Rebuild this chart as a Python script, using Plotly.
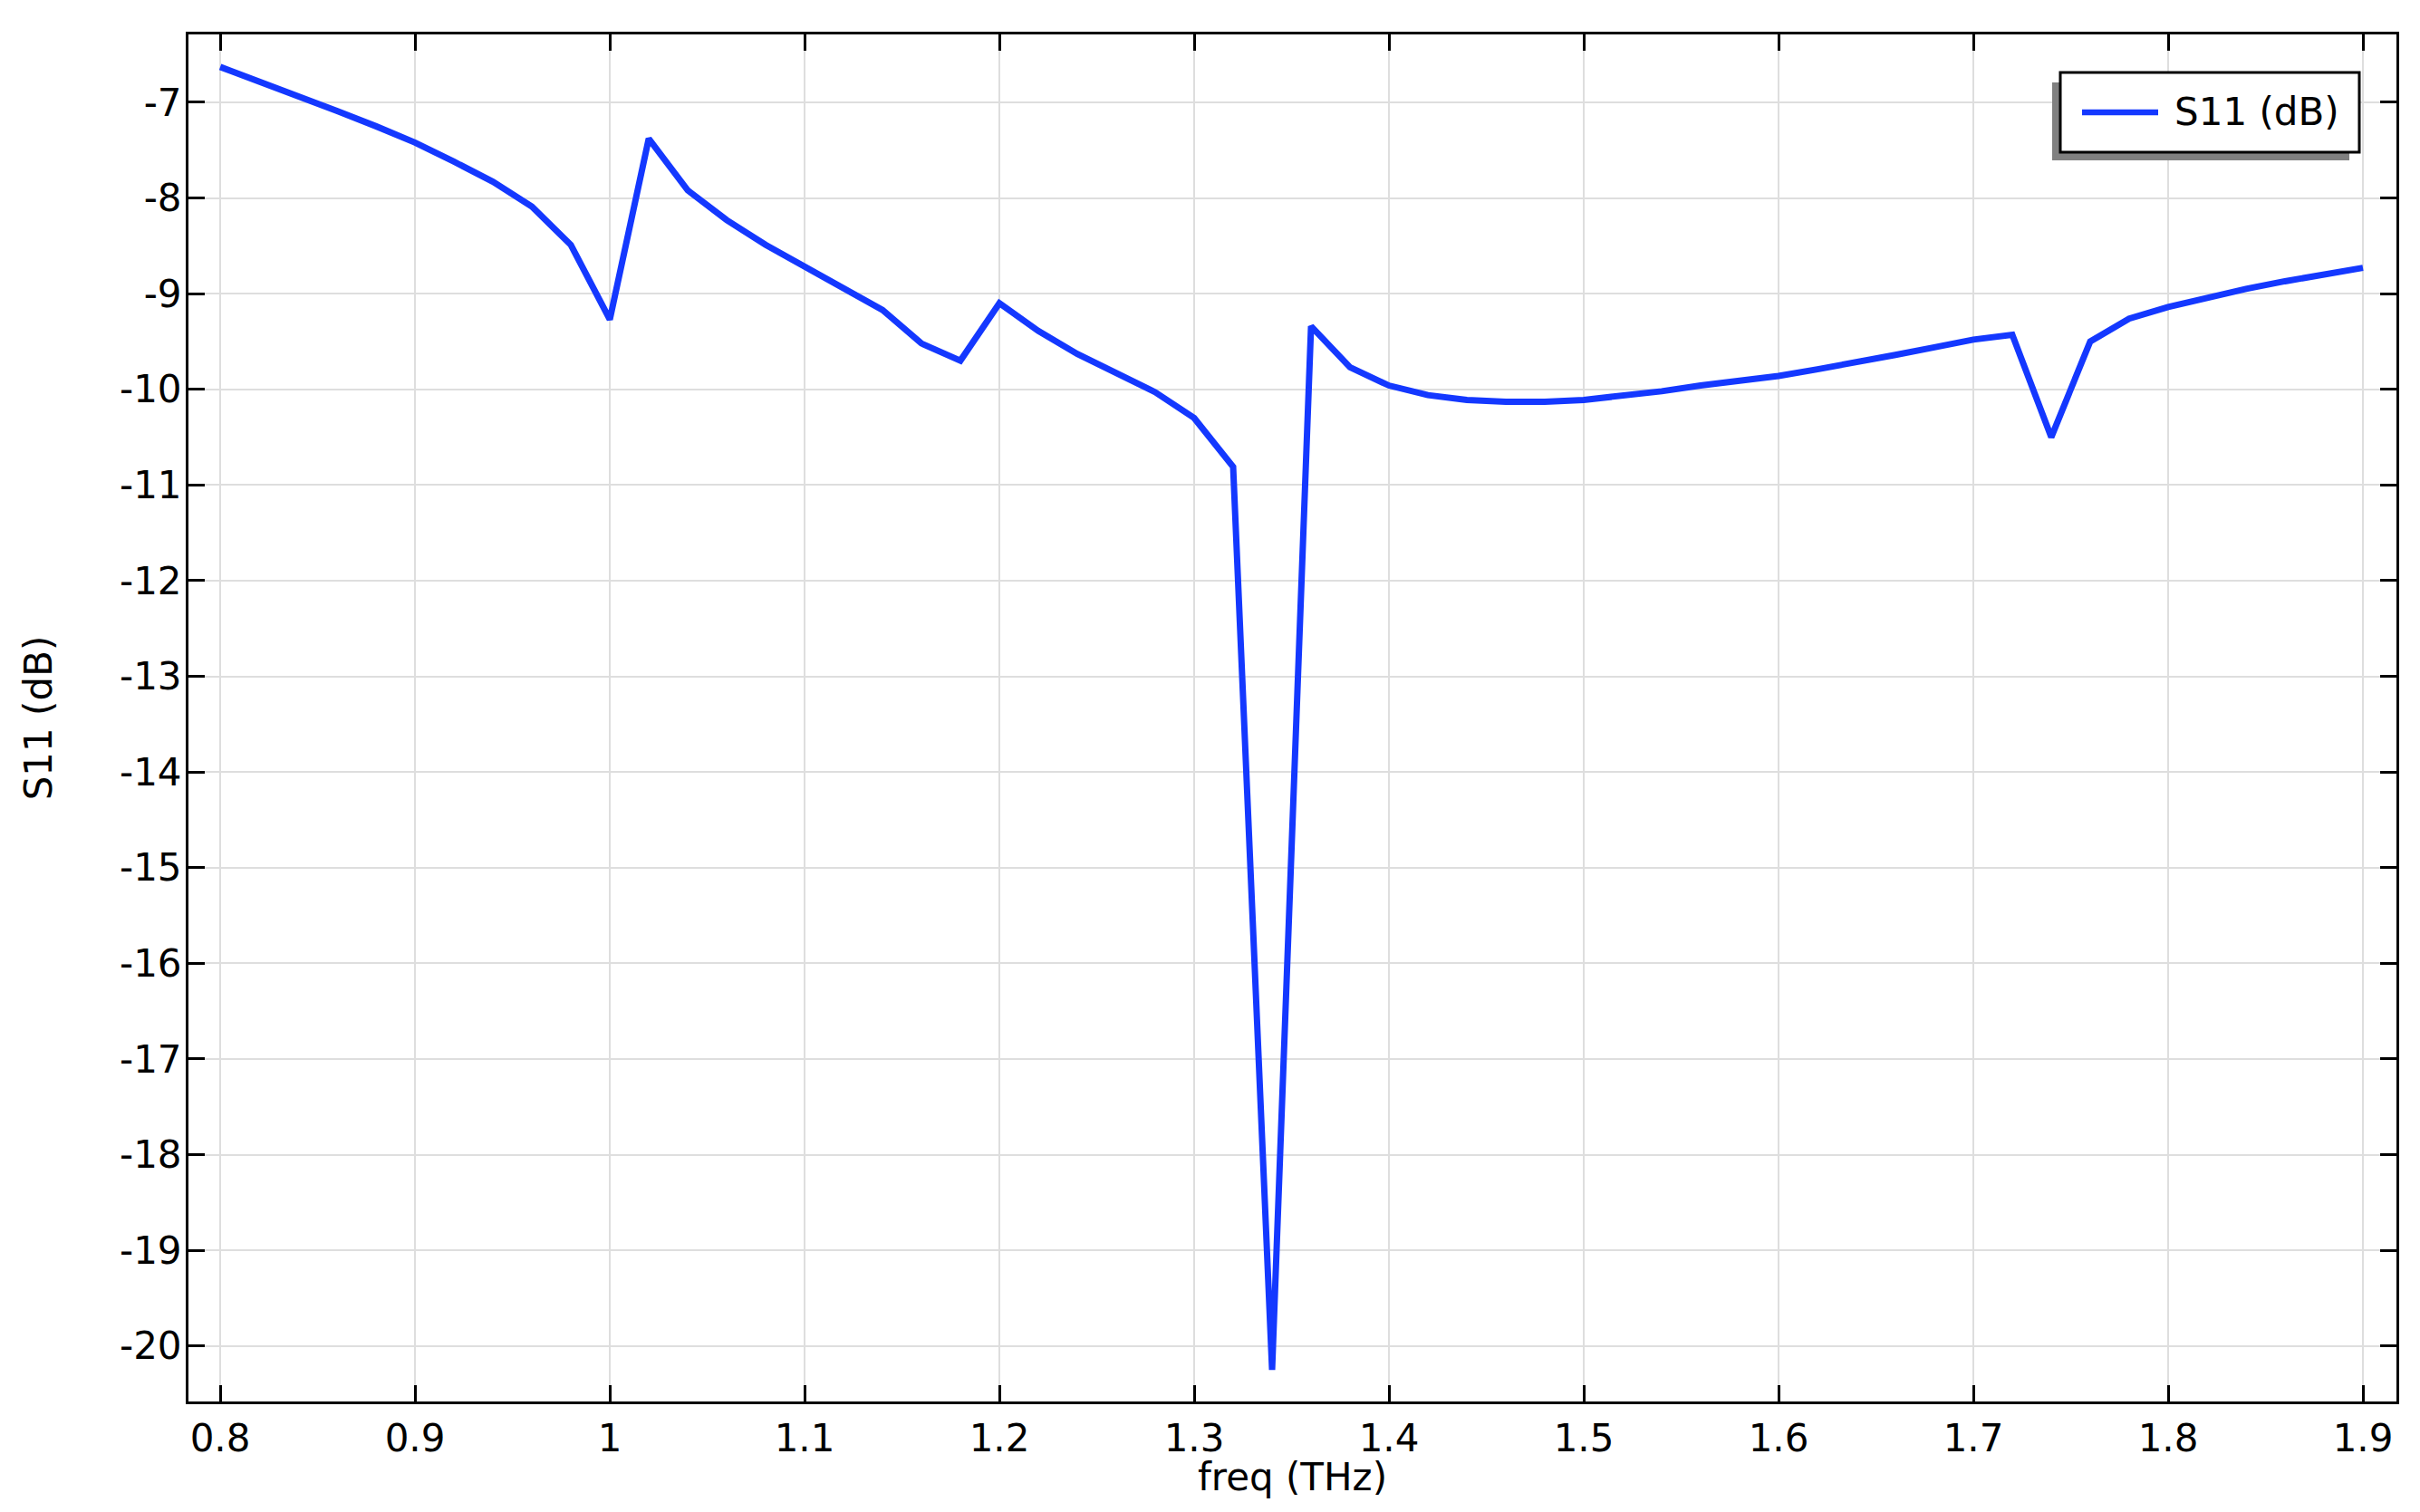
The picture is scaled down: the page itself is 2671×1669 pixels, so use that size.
import plotly.graph_objects as go

# S11 sweep, 0.8 - 1.9 THz in 0.02 THz steps
freq = [0.80, 0.82, 0.84, 0.86, 0.88, 0.90, 0.92, 0.94, 0.96, 0.98,
        1.00, 1.02, 1.04, 1.06, 1.08, 1.10, 1.12, 1.14, 1.16, 1.18,
        1.20, 1.22, 1.24, 1.26, 1.28, 1.30, 1.32, 1.34, 1.36, 1.38,
        1.40, 1.42, 1.44, 1.46, 1.48, 1.50, 1.52, 1.54, 1.56, 1.58,
        1.60, 1.62, 1.64, 1.66, 1.68, 1.70, 1.72, 1.74, 1.76, 1.78,
        1.80, 1.82, 1.84, 1.86, 1.88, 1.90]
s11_db = [-6.63, -6.78, -6.94, -7.09, -7.25, -7.42, -7.62, -7.83, -8.09, -8.49,
          -9.27, -7.38, -7.92, -8.23, -8.49, -8.72, -8.94, -9.17, -9.52, -9.70,
          -9.10, -9.39, -9.63, -9.83, -10.03, -10.30, -10.81, -20.25, -9.34, -9.77,
          -9.96, -10.06, -10.11, -10.13, -10.13, -10.11, -10.07, -10.02, -9.96, -9.91,
          -9.86, -9.79, -9.72, -9.64, -9.56, -9.48, -9.43, -10.50, -9.50, -9.26,
          -9.14, -9.04, -8.95, -8.87, -8.80, -8.73]

x_tick_vals = [0.8, 0.9, 1.0, 1.1, 1.2, 1.3, 1.4, 1.5, 1.6, 1.7, 1.8, 1.9]
x_tick_text = ["0.8", "0.9", "1", "1.1", "1.2", "1.3", "1.4", "1.5", "1.6", "1.7", "1.8", "1.9"]
y_tick_vals = list(range(-20, -6))
y_tick_text = ["-%d" % abs(v) for v in y_tick_vals]

series_name = "S11 (dB)"
line_color = "#1438ff"

font = dict(family="DejaVu Sans", size=42, color="black")

# plot area in page pixels (the page body adds an 8px offset)
OFF = 8
L, R, T, B = 208, 2645, 38, 1547
def px(x):
    return (x - L) / (R - L)
def py(y):
    return (B - y) / (B - T)

fig = go.Figure()
fig.add_trace(go.Scatter(x=freq, y=s11_db, mode="lines", name=series_name,
                         line=dict(color=line_color, width=7), showlegend=False))

axis_style = dict(showline=True, linecolor="black", linewidth=3, mirror="allticks",
                  ticks="inside", ticklen=18, tickwidth=3, tickcolor="black",
                  showgrid=True, gridcolor="#dedede", gridwidth=2, zeroline=False,
                  tickfont=font, title_font=font, automargin=False)

fig.update_xaxes(range=[0.7837, 1.9172], tickvals=x_tick_vals, ticktext=x_tick_text,
                 ticklabelstandoff=2, **axis_style)
fig.update_yaxes(range=[-20.58, -6.29], tickvals=y_tick_vals, ticktext=y_tick_text,
                 title_text="S11 (dB)", title_standoff=62, ticklabelstandoff=-4, **axis_style)

# x axis title placed by hand so it sits right under the tick labels
fig.add_annotation(xref="paper", yref="paper", x=0.5, y=py(1630),
                   xanchor="center", yanchor="middle", text="freq (THz)",
                   showarrow=False, font=font)

# legend box drawn by hand: grey drop shadow, white framed box, line sample
fig.add_shape(type="rect", xref="paper", yref="paper",
              x0=px(2265), x1=px(2593), y0=py(177), y1=py(91),
              fillcolor="#808080", line_width=0, layer="above")
fig.add_shape(type="rect", xref="paper", yref="paper",
              x0=px(2274), x1=px(2604), y0=py(168), y1=py(80),
              fillcolor="white", line=dict(color="black", width=3), layer="above")
fig.add_shape(type="line", xref="paper", yref="paper",
              x0=px(2298), x1=px(2382), y0=py(124), y1=py(124),
              line=dict(color=line_color, width=6.5), layer="above")
fig.add_annotation(xref="paper", yref="paper", x=px(2398), y=py(124),
                   xanchor="left", yanchor="middle", text=series_name,
                   showarrow=False, font=font)

fig.update_layout(
    width=2671, height=1669,
    margin=dict(l=L - OFF, r=2671 - R + OFF, t=T - OFF, b=1669 - B + OFF),
    paper_bgcolor="white", plot_bgcolor="white",
    font=font,
    showlegend=False,
)

fig.write_html("out.html")
